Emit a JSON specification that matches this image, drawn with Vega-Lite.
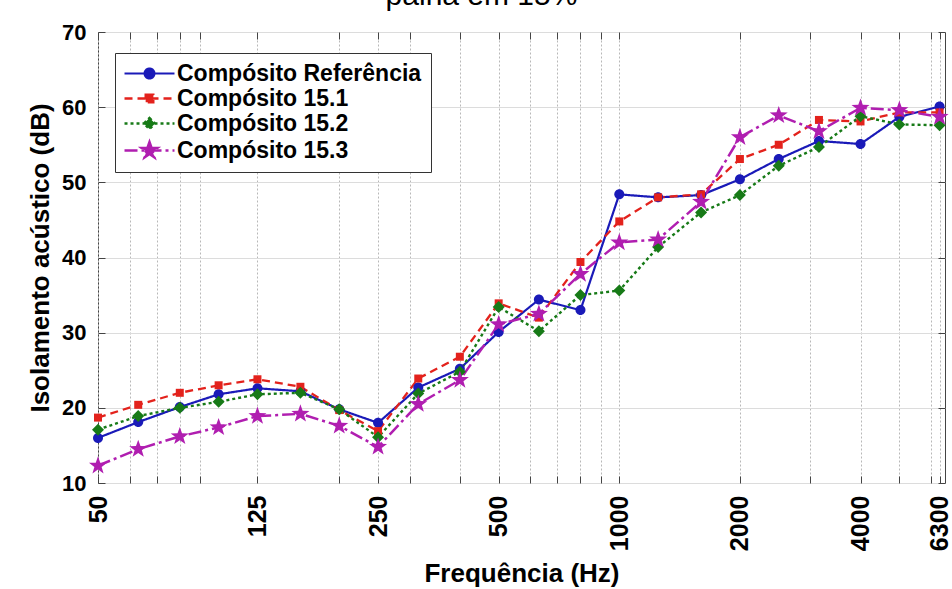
{
  "$schema": "https://vega.github.io/schema/vega-lite/v6.json",
  "width": 847,
  "height": 451,
  "autosize": {"type": "none"},
  "padding": {"left": 98, "top": 32, "right": 7, "bottom": 106},
  "background": "white",
  "title": {"text": "palha em 15%", "fontSize": 30, "font": "Liberation Sans", "fontWeight": "normal", "color": "black", "anchor": "middle", "dx": -40, "offset": 10},
  "config": {
    "view": {"stroke": "#444444", "strokeWidth": 1},
    "font": "Liberation Sans"
  },
  "datasets": {
    "rows": [
      {"freq": 50, "series": "Compósito Referência", "val": 16.0},
      {"freq": 63, "series": "Compósito Referência", "val": 18.1},
      {"freq": 80, "series": "Compósito Referência", "val": 20.1},
      {"freq": 100, "series": "Compósito Referência", "val": 21.8},
      {"freq": 125, "series": "Compósito Referência", "val": 22.6},
      {"freq": 160, "series": "Compósito Referência", "val": 22.2},
      {"freq": 200, "series": "Compósito Referência", "val": 19.8},
      {"freq": 250, "series": "Compósito Referência", "val": 18.0},
      {"freq": 315, "series": "Compósito Referência", "val": 22.7},
      {"freq": 400, "series": "Compósito Referência", "val": 25.2},
      {"freq": 500, "series": "Compósito Referência", "val": 30.1},
      {"freq": 630, "series": "Compósito Referência", "val": 34.4},
      {"freq": 800, "series": "Compósito Referência", "val": 33.0},
      {"freq": 1000, "series": "Compósito Referência", "val": 48.4},
      {"freq": 1250, "series": "Compósito Referência", "val": 48.0},
      {"freq": 1600, "series": "Compósito Referência", "val": 48.3},
      {"freq": 2000, "series": "Compósito Referência", "val": 50.4},
      {"freq": 2500, "series": "Compósito Referência", "val": 53.1},
      {"freq": 3150, "series": "Compósito Referência", "val": 55.5},
      {"freq": 4000, "series": "Compósito Referência", "val": 55.1},
      {"freq": 5000, "series": "Compósito Referência", "val": 58.7},
      {"freq": 6300, "series": "Compósito Referência", "val": 60.1},
      {"freq": 50, "series": "Compósito 15.1", "val": 18.7},
      {"freq": 63, "series": "Compósito 15.1", "val": 20.4},
      {"freq": 80, "series": "Compósito 15.1", "val": 22.0},
      {"freq": 100, "series": "Compósito 15.1", "val": 23.0},
      {"freq": 125, "series": "Compósito 15.1", "val": 23.8},
      {"freq": 160, "series": "Compósito 15.1", "val": 22.8},
      {"freq": 200, "series": "Compósito 15.1", "val": 19.7},
      {"freq": 250, "series": "Compósito 15.1", "val": 16.9},
      {"freq": 315, "series": "Compósito 15.1", "val": 23.9},
      {"freq": 400, "series": "Compósito 15.1", "val": 26.8},
      {"freq": 500, "series": "Compósito 15.1", "val": 33.9},
      {"freq": 630, "series": "Compósito 15.1", "val": 32.0},
      {"freq": 800, "series": "Compósito 15.1", "val": 39.4},
      {"freq": 1000, "series": "Compósito 15.1", "val": 44.8},
      {"freq": 1250, "series": "Compósito 15.1", "val": 48.0},
      {"freq": 1600, "series": "Compósito 15.1", "val": 48.4},
      {"freq": 2000, "series": "Compósito 15.1", "val": 53.1},
      {"freq": 2500, "series": "Compósito 15.1", "val": 55.0},
      {"freq": 3150, "series": "Compósito 15.1", "val": 58.3},
      {"freq": 4000, "series": "Compósito 15.1", "val": 58.1},
      {"freq": 5000, "series": "Compósito 15.1", "val": 59.3},
      {"freq": 6300, "series": "Compósito 15.1", "val": 59.3},
      {"freq": 50, "series": "Compósito 15.2", "val": 17.1},
      {"freq": 63, "series": "Compósito 15.2", "val": 18.9},
      {"freq": 80, "series": "Compósito 15.2", "val": 20.0},
      {"freq": 100, "series": "Compósito 15.2", "val": 20.8},
      {"freq": 125, "series": "Compósito 15.2", "val": 21.8},
      {"freq": 160, "series": "Compósito 15.2", "val": 22.0},
      {"freq": 200, "series": "Compósito 15.2", "val": 19.8},
      {"freq": 250, "series": "Compósito 15.2", "val": 16.1},
      {"freq": 315, "series": "Compósito 15.2", "val": 21.9},
      {"freq": 400, "series": "Compósito 15.2", "val": 24.8},
      {"freq": 500, "series": "Compósito 15.2", "val": 33.4},
      {"freq": 630, "series": "Compósito 15.2", "val": 30.2},
      {"freq": 800, "series": "Compósito 15.2", "val": 35.0},
      {"freq": 1000, "series": "Compósito 15.2", "val": 35.6},
      {"freq": 1250, "series": "Compósito 15.2", "val": 41.4},
      {"freq": 1600, "series": "Compósito 15.2", "val": 46.0},
      {"freq": 2000, "series": "Compósito 15.2", "val": 48.3},
      {"freq": 2500, "series": "Compósito 15.2", "val": 52.2},
      {"freq": 3150, "series": "Compósito 15.2", "val": 54.7},
      {"freq": 4000, "series": "Compósito 15.2", "val": 58.8},
      {"freq": 5000, "series": "Compósito 15.2", "val": 57.7},
      {"freq": 6300, "series": "Compósito 15.2", "val": 57.6},
      {"freq": 50, "series": "Compósito 15.3", "val": 12.3},
      {"freq": 63, "series": "Compósito 15.3", "val": 14.5},
      {"freq": 80, "series": "Compósito 15.3", "val": 16.2},
      {"freq": 100, "series": "Compósito 15.3", "val": 17.4},
      {"freq": 125, "series": "Compósito 15.3", "val": 18.9},
      {"freq": 160, "series": "Compósito 15.3", "val": 19.2},
      {"freq": 200, "series": "Compósito 15.3", "val": 17.6},
      {"freq": 250, "series": "Compósito 15.3", "val": 14.8},
      {"freq": 315, "series": "Compósito 15.3", "val": 20.5},
      {"freq": 400, "series": "Compósito 15.3", "val": 23.7},
      {"freq": 500, "series": "Compósito 15.3", "val": 31.1},
      {"freq": 630, "series": "Compósito 15.3", "val": 32.5},
      {"freq": 800, "series": "Compósito 15.3", "val": 37.8},
      {"freq": 1000, "series": "Compósito 15.3", "val": 42.0},
      {"freq": 1250, "series": "Compósito 15.3", "val": 42.4},
      {"freq": 1600, "series": "Compósito 15.3", "val": 47.4},
      {"freq": 2000, "series": "Compósito 15.3", "val": 56.0},
      {"freq": 2500, "series": "Compósito 15.3", "val": 58.9},
      {"freq": 3150, "series": "Compósito 15.3", "val": 56.8},
      {"freq": 4000, "series": "Compósito 15.3", "val": 59.9},
      {"freq": 5000, "series": "Compósito 15.3", "val": 59.6},
      {"freq": 6300, "series": "Compósito 15.3", "val": 58.7}
    ]
  },
  "data": {"name": "rows"},
  "layer": [
    {
      "mark": {"type": "line", "clip": true},
      "encoding": {
        "x": {
          "field": "freq", "type": "quantitative",
          "scale": {"type": "log", "domain": [50, 6500], "nice": false},
          "axis": {
            "orient": "bottom",
            "values": [50, 60, 70, 80, 90, 125, 200, 250, 300, 400, 500, 600, 700, 800, 900, 1000, 2000, 3000, 4000, 5000, 6000, 6300],
            "labelExpr": "indexof([50,125,250,500,1000,2000,4000,6300], datum.value) >= 0 ? format(datum.value, 'd') : ''",
            "labelAngle": -90,
            "labelFont": "Liberation Sans", "labelFontSize": 25, "labelFontWeight": "bold", "labelColor": "black",
            "labelPadding": 19, "labelOverlap": false, "labelFlush": false,
            "tickSize": -7, "tickColor": "#444444",
            "domain": false,
            "grid": true, "gridColor": "#b8b8b8", "gridDash": [2, 2], "gridWidth": 1,
            "title": "Frequência (Hz)", "titleFont": "Liberation Sans", "titleFontSize": 26, "titleFontWeight": "bold", "titleColor": "black", "titlePadding": 10
          }
        },
        "y": {
          "field": "val", "type": "quantitative",
          "scale": {"domain": [10, 70], "nice": false},
          "axis": {
            "orient": "left",
            "values": [10, 20, 30, 40, 50, 60, 70],
            "labelFont": "Liberation Sans", "labelFontSize": 22, "labelFontWeight": "bold", "labelColor": "black",
            "labelPadding": 19, "tickSize": -7, "tickColor": "#444444", "domain": false,
            "grid": true, "gridColor": "#dcdcdc", "gridWidth": 1,
            "title": "Isolamento acústico (dB)", "titleFont": "Liberation Sans", "titleFontSize": 26, "titleFontWeight": "bold", "titleColor": "black", "titlePadding": 8
          }
        },
        "color": {
          "field": "series", "type": "nominal",
          "scale": {"domain": ["Compósito Referência", "Compósito 15.1", "Compósito 15.2", "Compósito 15.3"], "range": ["#1a1ab8", "#e3221c", "#177a17", "#b01eb0"]},
          "legend": {
            "orient": "none", "legendX": 17, "legendY": 21,
            "title": null,
            "labelFont": "Liberation Sans", "labelFontSize": 23, "labelFontWeight": "bold", "labelColor": "black", "labelLimit": 500,
            "fillColor": "white", "strokeColor": "#333333", "padding": 9,
            "rowPadding": 1, "symbolSize": 196, "symbolOffset": 14, "labelOffset": 16,
            "symbolStrokeWidth": 2,
            "encode": {
              "symbols": {
                "update": {
                  "shape": {"signal": "datum.value === 'Compósito Referência' ? 'M-3.57,0L3.57,0M0.7,0A0.7,0.7,0,1,1,-0.7,0A0.7,0.7,0,1,1,0.7,0Z' : datum.value === 'Compósito 15.1' ? 'M-3.57,0L3.57,0M-0.55,-0.55L0.55,-0.55L0.55,0.55L-0.55,0.55Z' : datum.value === 'Compósito 15.2' ? 'M-3.57,0L3.57,0M0,-0.8L0.8,0L0,0.8L-0.8,0Z' : 'M-3.57,0L3.57,0M0,-1.214L0.286,-0.393L1.155,-0.375L0.462,0.15L0.713,0.982L0,0.486L-0.713,0.982L-0.462,0.15L-1.155,-0.375L-0.286,-0.393Z'"},
                  "fill": {"signal": "scale('color', datum.value)"},
                  "stroke": {"signal": "scale('color', datum.value)"},
                  "strokeDash": {"signal": "datum.value === 'Compósito Referência' ? [1,0] : datum.value === 'Compósito 15.1' ? [7,5] : datum.value === 'Compósito 15.2' ? [2,3] : [11,4,3,4]"},
                  "strokeWidth": {"value": 2.2},
                  "opacity": {"value": 1}
                }
              }
            }
          }
        },
        "strokeDash": {
          "field": "series", "type": "nominal",
          "scale": {"domain": ["Compósito Referência", "Compósito 15.1", "Compósito 15.2", "Compósito 15.3"], "range": [[1, 0], [8, 5], [3, 3], [13, 4, 3, 4]]},
          "legend": null
        },
        "strokeWidth": {
          "field": "series", "type": "nominal",
          "scale": {"domain": ["Compósito Referência", "Compósito 15.1", "Compósito 15.2", "Compósito 15.3"], "range": [2.2, 2.5, 3.6, 3.4]},
          "legend": null
        }
      }
    },
    {
      "encoding": {
        "x": {
          "field": "freq", "type": "quantitative",
          "axis": {
            "orient": "top",
            "values": [50, 60, 70, 80, 90, 125, 200, 250, 300, 400, 500, 600, 700, 800, 900, 1000, 2000, 3000, 4000, 5000, 6000, 6300],
            "labels": false, "tickSize": -7, "tickColor": "#444444", "domain": false, "grid": false, "title": null
          }
        },
        "y": {
          "field": "val", "type": "quantitative",
          "axis": {
            "orient": "right",
            "values": [10, 20, 30, 40, 50, 60, 70],
            "labels": false, "tickSize": -7, "tickColor": "#444444", "domain": false, "grid": false, "title": null
          }
        },
        "color": {"field": "series", "type": "nominal"}
      },
      "layer": [
        {
          "transform": [{"filter": "datum.series === 'Compósito Referência'"}],
          "mark": {"type": "point", "filled": true, "opacity": 1, "size": 100, "strokeWidth": 1, "shape": "M1,0A1,1,0,1,1,-1,0A1,1,0,1,1,1,0Z"}
        },
        {
          "transform": [{"filter": "datum.series === 'Compósito 15.1'"}],
          "mark": {"type": "point", "filled": true, "opacity": 1, "size": 100, "strokeWidth": 1, "shape": "M-0.8,-0.8L0.8,-0.8L0.8,0.8L-0.8,0.8Z"}
        },
        {
          "transform": [{"filter": "datum.series === 'Compósito 15.2'"}],
          "mark": {"type": "point", "filled": true, "opacity": 1, "size": 100, "strokeWidth": 1, "shape": "M0,-1.2L1.2,0L0,1.2L-1.2,0Z"}
        },
        {
          "transform": [{"filter": "datum.series === 'Compósito 15.3'"}],
          "mark": {"type": "point", "filled": true, "opacity": 1, "size": 100, "strokeWidth": 1, "shape": "M0,-1.9L0.447,-0.615L1.807,-0.587L0.723,0.235L1.117,1.537L0,0.76L-1.117,1.537L-0.723,0.235L-1.807,-0.587L-0.447,-0.615Z"}
        }
      ]
    }
  ],
  "resolve": {"axis": {"x": "independent", "y": "independent"}}
}
